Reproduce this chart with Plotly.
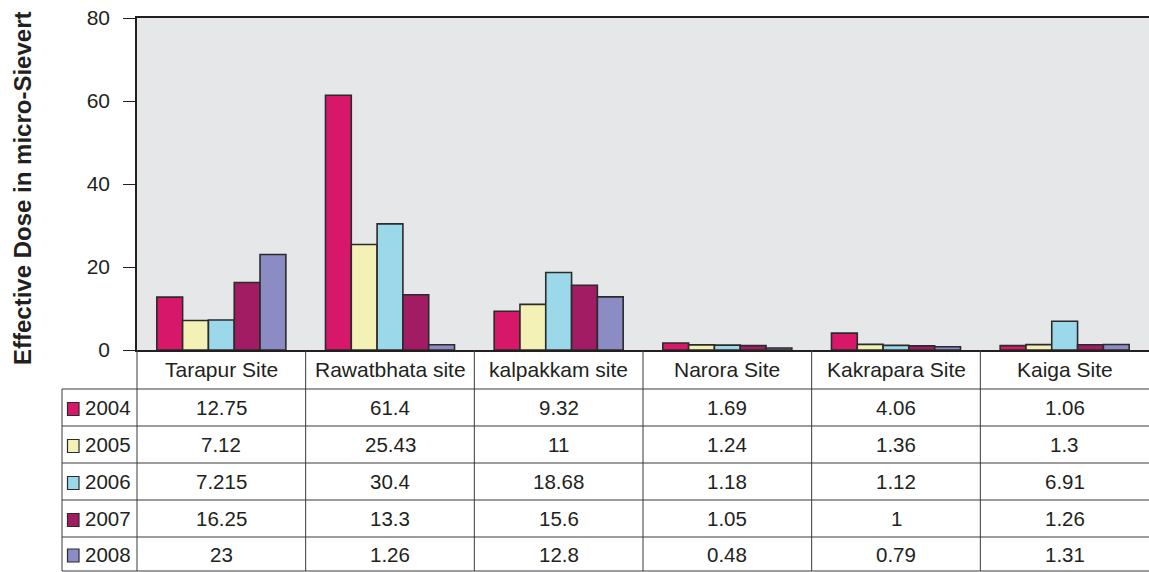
import plotly.graph_objects as go

sites = ["Tarapur Site", "Rawatbhata site", "kalpakkam site", "Narora Site", "Kakrapara Site", "Kaiga Site"]
years = ["2004", "2005", "2006", "2007", "2008"]
v2004 = [12.75, 61.4, 9.32, 1.69, 4.06, 1.06]
v2005 = [7.12, 25.43, 11, 1.24, 1.36, 1.3]
v2006 = [7.215, 30.4, 18.68, 1.18, 1.12, 6.91]
v2007 = [16.25, 13.3, 15.6, 1.05, 1, 1.26]
v2008 = [23, 1.26, 12.8, 0.48, 0.79, 1.31]
table_text = [
    ["12.75", "61.4", "9.32", "1.69", "4.06", "1.06"],
    ["7.12", "25.43", "11", "1.24", "1.36", "1.3"],
    ["7.215", "30.4", "18.68", "1.18", "1.12", "6.91"],
    ["16.25", "13.3", "15.6", "1.05", "1", "1.26"],
    ["23", "1.26", "12.8", "0.48", "0.79", "1.31"],
]
series = [v2004, v2005, v2006, v2007, v2008]
colors = ["#d7186a", "#f3f1b6", "#9bd8e9", "#a11c62", "#8c8cc4"]

W, H = 1149, 572
L, R, T, B = 137, 0, 18, 222
PW, PH = W - L - R, H - T - B
TXT = "#231f20"
LINE = "#3a3a3a"
FONT = "Liberation Sans, Arial, sans-serif"


def px(x):
    return (x - L) / PW


def py(y):
    return (H - B - y) / PH


fig = go.Figure()
for yr, vals, c in zip(years, series, colors):
    fig.add_trace(go.Bar(x=sites, y=vals, name=yr,
                         marker=dict(color=c, line=dict(color="#2b2b2b", width=1.6))))

shapes = []
annotations = []

row_edges = [350, 389, 426, 463, 500, 537, 571]
col_left = 62

for y in row_edges[1:]:
    shapes.append(dict(type="line", xref="paper", yref="paper",
                       x0=px(col_left), x1=1, y0=py(y), y1=py(y),
                       line=dict(color=LINE, width=1)))
shapes.append(dict(type="line", xref="paper", yref="paper",
                   x0=px(col_left), x1=px(col_left), y0=py(row_edges[1]), y1=py(row_edges[-1]),
                   line=dict(color=LINE, width=1)))
for k in range(len(sites)):
    xb = k / len(sites)
    shapes.append(dict(type="line", xref="paper", yref="paper",
                       x0=xb, x1=xb, y0=0, y1=py(row_edges[-1]),
                       line=dict(color=LINE, width=1)))

for i, s in enumerate(sites):
    annotations.append(dict(x=s, xref="x", y=py((row_edges[0] + row_edges[1]) / 2), yref="paper",
                            text=s, showarrow=False, xanchor="center", yanchor="middle",
                            font=dict(family=FONT, size=21, color=TXT)))

for r, yr in enumerate(years):
    yc = (row_edges[r + 1] + row_edges[r + 2]) / 2
    shapes.append(dict(type="rect", xref="paper", yref="paper",
                       x0=px(67.5), x1=px(79), y0=py(yc + 8), y1=py(yc - 5),
                       fillcolor=colors[r], line=dict(color="#2b2b2b", width=1.2)))
    annotations.append(dict(x=px(83), xref="paper", y=py(yc), yref="paper",
                            text=yr, showarrow=False, xanchor="left", yanchor="middle",
                            font=dict(family=FONT, size=20.5, color=TXT)))
    for i, s in enumerate(sites):
        annotations.append(dict(x=s, xref="x", y=py(yc), yref="paper",
                                text=table_text[r][i], showarrow=False,
                                xanchor="center", yanchor="middle",
                                font=dict(family=FONT, size=20.5, color=TXT)))

annotations.append(dict(x=px(22), xref="paper", y=py(189), yref="paper",
                        text="<b>Effective Dose in micro-Sievert</b>", textangle=-90,
                        showarrow=False, xanchor="center", yanchor="middle",
                        font=dict(family=FONT, size=24, color=TXT)))

fig.update_layout(
    width=W, height=H,
    margin=dict(l=L, r=R, t=T, b=B, pad=0),
    paper_bgcolor="white", plot_bgcolor="#e6e7e8",
    barmode="group", bargap=0.235, bargroupgap=0,
    showlegend=False,
    shapes=shapes, annotations=annotations,
    font=dict(family=FONT, color=TXT),
)
fig.update_xaxes(showticklabels=False, ticks="", showgrid=False, zeroline=False,
                 showline=True, linecolor=TXT, linewidth=1.5, mirror=True,
                 range=[-0.5, 5.5])
fig.update_yaxes(range=[0, 80], tickvals=[0, 20, 40, 60, 80], showgrid=False, zeroline=False,
                 ticks="outside", ticklen=12, tickwidth=1, tickcolor=TXT,
                 showline=True, linecolor=TXT, linewidth=1.5,
                 tickfont=dict(family=FONT, size=21, color=TXT), ticklabelstandoff=9)

post = ("document.body.style.margin='0';document.body.style.padding='0';"
        "document.body.style.overflow='hidden';"
        "Plotly.relayout('{plot_id}', {width: 1149, height: 572});")
fig.write_html("out.html", post_script=post, config={"displayModeBar": False})
